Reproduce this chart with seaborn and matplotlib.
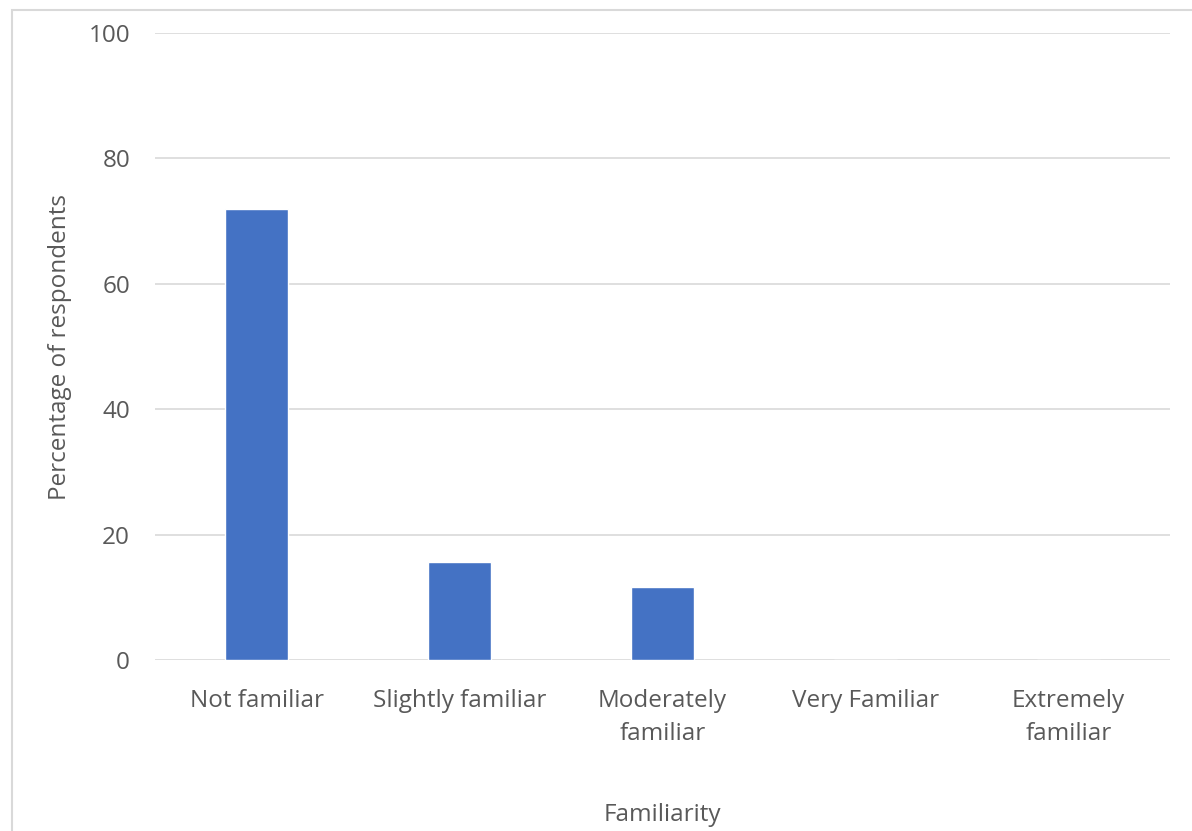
import pandas as pd
import matplotlib
matplotlib.use("Agg")
import matplotlib.pyplot as plt
import seaborn as sns
from matplotlib.patches import Rectangle

# data
categories = ["Not familiar", "Slightly familiar", "Moderately\nfamiliar",
              "Very Familiar", "Extremely\nfamiliar"]
percentages = [71.9, 15.6, 11.7, 0, 0]

df = pd.DataFrame({"Familiarity": categories, "Percentage": percentages})

sns.set_style("white")
plt.rcParams['font.family'] = ['Open Sans', 'DejaVu Sans']

fig = plt.figure(figsize=(11.92, 8.31), dpi=100)
ax = fig.add_axes([155 / 1192, 1 - 660 / 831, (1170 - 155) / 1192, (660 - 33) / 831])

sns.barplot(data=df, x="Familiarity", y="Percentage", color="#4472C4",
            width=0.31, saturation=1, ax=ax, zorder=3)

ax.set_ylim(0, 100)
ax.set_yticks([0, 20, 40, 60, 80, 100])
ax.grid(axis='y', color="#D9D9D9", linewidth=1.2, zorder=0)
for s in ax.spines.values():
    s.set_visible(False)

fs = 17.5
ax.tick_params(axis='both', length=0, labelsize=fs, labelcolor="#595959")
ax.tick_params(axis='x', pad=21)
ax.tick_params(axis='y', pad=18)
for lbl in ax.get_xticklabels():
    lbl.set_linespacing(1.5)

ax.set_xlabel("Familiarity", fontsize=fs, color="#595959")
ax.set_ylabel("Percentage of respondents", fontsize=fs, color="#595959")
ax.xaxis.set_label_coords(0.5, -(815 - 660) / 627, transform=ax.transAxes)
ax.yaxis.set_label_coords(-(155 - 60) / 1015, 0.5)
ax.xaxis.label.set_va("center")
ax.yaxis.label.set_va("center")

# chart-area border (cropped at right/bottom)
fig.patches.append(Rectangle((12 / 1192, -0.1), 1.2, 1 - 10 / 831 + 0.1,
                             transform=fig.transFigure, fill=False,
                             edgecolor="#D9D9D9", linewidth=1.5))

fig.savefig("out.png", dpi=100, facecolor="white")
